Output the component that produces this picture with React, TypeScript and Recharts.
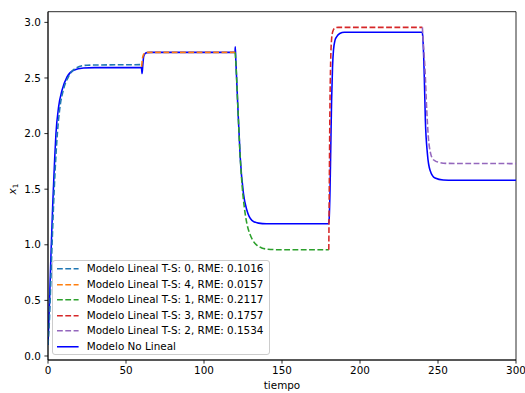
import React from 'react';
import { LineChart, Line, XAxis, YAxis, Legend, ReferenceArea, Label } from 'recharts';

const xTicks = [0, 50, 100, 150, 200, 250, 300];
const yTicks = [0, 0.5, 1, 1.5, 2, 2.5, 3];
const xDomain: [number, number] = [0, 300];
const yDomain: [number, number] = [-0.036, 3.096];

// Modelo Lineal T-S: 0 (0-60)
const ts0: [number, number][] = [
  [0, 0.1], [1, 0.35], [2, 0.75], [3, 1.15], [4, 1.5], [5, 1.78], [6, 2.0],
  [7.5, 2.22], [10, 2.4], [13.5, 2.52], [18, 2.59], [25, 2.615], [60, 2.62],
];
// Modelo Lineal T-S: 4 (60-120)
const ts4: [number, number][] = [
  [60, 2.6], [60.5, 2.67], [61.2, 2.71], [62.2, 2.725], [64, 2.73], [120, 2.73],
];
// Modelo Lineal T-S: 1 (120-180)
const ts1: [number, number][] = [
  [120, 2.73], [120.5, 2.62], [121.7, 2.24], [123.2, 1.79], [124.5, 1.52], [126, 1.32],
  [127.5, 1.19], [129.6, 1.09], [131.5, 1.035], [134, 0.995], [137, 0.972], [141, 0.96],
  [150, 0.955], [180, 0.955],
];
// Modelo Lineal T-S: 3 (180-240)
const ts3: [number, number][] = [
  [180, 0.955], [180.3, 1.5], [180.7, 2.2], [181.2, 2.65], [181.8, 2.85], [182.6, 2.92],
  [184, 2.95], [186, 2.955], [240, 2.955],
];
// Modelo Lineal T-S: 2 (240-300)
const ts2: [number, number][] = [
  [240, 2.955], [240.3, 2.88], [241.7, 2.57], [242.8, 2.21], [243.8, 1.97], [245.3, 1.82],
  [246.5, 1.775], [248.1, 1.755], [251, 1.74], [255, 1.732], [300, 1.73],
];
// Modelo No Lineal (0-300)
const nonLinear: [number, number][] = [
  [0, 0.1], [1, 0.5], [2, 0.95], [3, 1.35], [3.6, 1.55], [4.3, 1.78], [5.1, 2.0],
  [6.8, 2.24], [9, 2.39], [12.2, 2.51], [16.4, 2.57], [22.8, 2.59], [30, 2.593],
  [59.9, 2.593], [60.3, 2.54], [60.8, 2.62], [61.3, 2.69], [62, 2.715], [63.5, 2.728],
  [66, 2.73], [119.9, 2.73], [120.05, 2.78], [120.4, 2.66], [121.7, 2.24], [123.2, 1.79],
  [125.3, 1.46], [127.5, 1.31], [130.7, 1.22], [134.9, 1.195], [140, 1.19], [179.9, 1.19],
  [180.3, 1.25], [180.8, 1.5], [181.3, 1.9], [181.8, 2.3], [182.4, 2.6], [183, 2.75],
  [184, 2.84], [185, 2.87], [187, 2.9], [190, 2.912], [239.9, 2.912], [240.2, 2.88],
  [241.1, 2.57], [241.9, 2.12], [243.2, 1.82], [244.9, 1.67], [248.1, 1.6], [253.4, 1.582],
  [260, 1.58], [300, 1.58],
];

const seriesNames = [
  'Modelo Lineal T-S: 0, RME: 0.1016',
  'Modelo Lineal T-S: 4, RME: 0.0157',
  'Modelo Lineal T-S: 1, RME: 0.2117',
  'Modelo Lineal T-S: 3, RME: 0.1757',
  'Modelo Lineal T-S: 2, RME: 0.1534',
  'Modelo No Lineal',
];
const seriesColors = ['#1f77b4', '#ff7f0e', '#2ca02c', '#d62728', '#9467bd', '#0000ff'];
const seriesData = [ts0, ts4, ts1, ts3, ts2, nonLinear];
const seriesDashed = [true, true, true, true, true, false];

const toRows = (arr: [number, number][]) => arr.map(([t, v]) => ({ t, v }));

const FONT = 'DejaVu Sans';
const FS = 10.4;
const LW = 1.56;
const DASH = '5.8 2.5';

const renderLegend = () => (
  <div
    style={{
      border: '1px solid #cccccc',
      borderRadius: 3,
      background: 'rgba(255,255,255,0.8)',
      width: 218,
      boxSizing: 'border-box',
      fontFamily: FONT,
      fontSize: FS,
      color: '#000',
    }}
  >
    {seriesNames.map((name, i) => (
      <div key={name} style={{ height: 15.5, display: 'flex', alignItems: 'center' }}>
        <svg width={34} height={15.5} style={{ flex: 'none' }}>
          <line
            x1={4}
            x2={25.6}
            y1={7.75}
            y2={7.75}
            stroke={seriesColors[i]}
            strokeWidth={LW}
            strokeDasharray={seriesDashed[i] ? DASH : undefined}
          />
        </svg>
        <span style={{ whiteSpace: 'nowrap', lineHeight: '15.5px' }}>{name}</span>
      </div>
    ))}
  </div>
);

const YLabelText = () => (
  <text
    transform="translate(15.5,189) rotate(-90)"
    textAnchor="middle"
    fontFamily={FONT}
    fontSize={FS}
    fill="#000"
  >
    <tspan fontStyle="italic">x</tspan>
    <tspan fontSize={7.3} dy={2.6}>1</tspan>
  </text>
);

export default function App() {
  const drawOrder = [5, 0, 1, 2, 3, 4];
  return (
    <div style={{ position: 'absolute', left: 0, top: 0, width: 525, height: 393, background: '#fff', fontFamily: FONT }}>
      <LineChart width={525} height={393} margin={{ top: 11.7, right: 9, bottom: 0, left: 0 }}>
        <XAxis
          dataKey="t"
          type="number"
          domain={xDomain}
          ticks={xTicks}
          allowDataOverflow
          height={33}
          tickSize={3.6}
          tickMargin={3.5}
          axisLine={{ stroke: '#000', strokeWidth: 0.83 }}
          tickLine={{ stroke: '#000', strokeWidth: 0.83 }}
          tick={{ fontSize: FS, fill: '#000', fontFamily: FONT }}
          label={{ value: 'tiempo', position: 'insideBottom', offset: 4, style: { fontSize: FS, fill: '#000', fontFamily: FONT } }}
        />
        <YAxis
          dataKey="v"
          type="number"
          domain={yDomain}
          ticks={yTicks}
          allowDataOverflow
          width={48}
          tickSize={3.6}
          tickMargin={3.5}
          tickFormatter={(v: number) => v.toFixed(1)}
          axisLine={{ stroke: '#000', strokeWidth: 0.83 }}
          tickLine={{ stroke: '#000', strokeWidth: 0.83 }}
          tick={{ fontSize: FS, fill: '#000', fontFamily: FONT }}
          label={<Label content={() => <YLabelText />} />}
        />
        <ReferenceArea
          x1={xDomain[0]}
          x2={xDomain[1]}
          y1={yDomain[0]}
          y2={yDomain[1]}
          fill="none"
          fillOpacity={0}
          stroke="#000"
          strokeWidth={0.83}
          ifOverflow="visible"
        />
        {drawOrder.map((i) => (
          <Line
            key={seriesNames[i]}
            data={toRows(seriesData[i])}
            dataKey="v"
            name={seriesNames[i]}
            type="monotone"
            stroke={seriesColors[i]}
            strokeWidth={LW}
            strokeDasharray={seriesDashed[i] ? DASH : undefined}
            dot={false}
            activeDot={false}
            isAnimationActive={false}
          />
        ))}
        <Legend
          layout="vertical"
          align="center"
          verticalAlign="middle"
          content={renderLegend}
          wrapperStyle={{ left: 51.7, top: 260, width: 218, height: 95 }}
        />
      </LineChart>
    </div>
  );
}
